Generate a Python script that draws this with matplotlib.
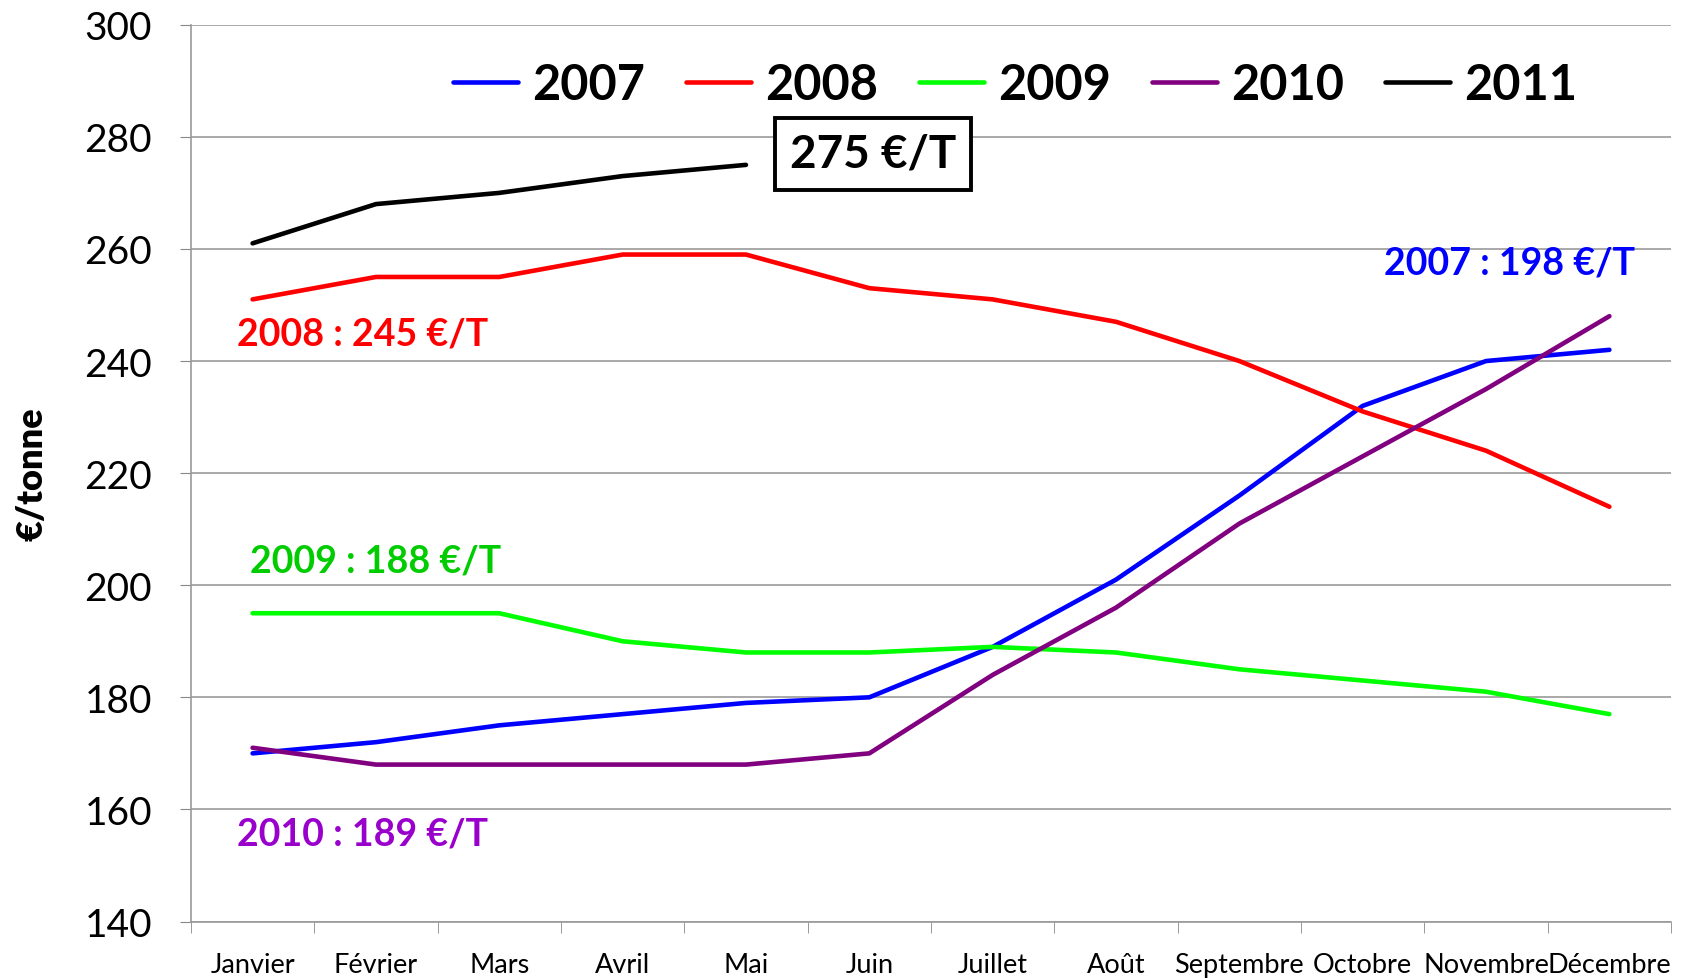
import numpy as np
import matplotlib
matplotlib.use("Agg")
import matplotlib.pyplot as plt
from matplotlib.ticker import FixedLocator

# === Data (€/tonne, monthly) ===
months = ["Janvier", "Février", "Mars", "Avril", "Mai", "Juin", "Juillet",
          "Août", "Septembre", "Octobre", "Novembre", "Décembre"]
prix_2007 = [170, 172, 175, 177, 179, 180, 189, 201, 216, 232, 240, 242]
prix_2008 = [251, 255, 255, 259, 259, 253, 251, 247, 240, 231, 224, 214]
prix_2009 = [195, 195, 195, 190, 188, 188, 189, 188, 185, 183, 181, 177]
prix_2010 = [171, 168, 168, 168, 168, 170, 184, 196, 211, 223, 235, 248]
prix_2011 = [261, 268, 270, 273, 275]

series = [("2007", prix_2007, "#0000FF"),
          ("2008", prix_2008, "#FF0000"),
          ("2009", prix_2009, "#00FF00"),
          ("2010", prix_2010, "#800080"),
          ("2011", prix_2011, "#000000")]

plt.rcParams["font.family"] = ["Lato", "DejaVu Sans"]

fig = plt.figure(figsize=(16.82, 9.79), dpi=100)
ax = fig.add_axes([0.1135, 0.0577, 0.88, 0.916])

x = np.arange(len(months))
for name, vals, col in series:
    ax.plot(x[:len(vals)], vals, color=col, lw=3.3, label=name,
            solid_capstyle="round", solid_joinstyle="round")

# axes
ax.set_xlim(-0.5, len(months) - 0.5)
ax.set_ylim(140, 300)
ax.set_yticks(np.arange(140, 301, 20))
ax.tick_params(axis="y", labelsize=28, length=8, color="#888888", pad=20)
ax.set_xticks(x)
ax.set_xticklabels(months, fontsize=19.5)
ax.tick_params(axis="x", which="major", length=0, pad=22)
ax.xaxis.set_minor_locator(FixedLocator(np.arange(-0.5, len(months), 1.0)))
ax.tick_params(axis="x", which="minor", length=8, color="#888888")
ax.grid(axis="y", color="#999999", lw=1.2)
ax.set_axisbelow(True)
for s in ["top", "right"]:
    ax.spines[s].set_visible(False)
for s in ["left", "bottom"]:
    ax.spines[s].set_color("#999999")
    ax.spines[s].set_linewidth(1.2)

ax.set_ylabel("€/tonne", fontsize=26, fontweight="heavy", labelpad=26)

# legend
leg = ax.legend(loc="center", bbox_to_anchor=(0.557, 0.933), ncol=5,
                frameon=False, prop={"size": 35, "weight": "bold"},
                handlelength=1.32, handletextpad=0.3, columnspacing=0.85)

# annotations
ann = dict(fontsize=27, fontweight="bold", va="center")
ax.text(-0.13, 245, "2008 : 245 €/T", color="#FF0000", ha="left", **ann)
ax.text(-0.02, 204.5, "2009 : 188 €/T", color="#00CC00", ha="left", **ann)
ax.text(-0.13, 155.7, "2010 : 189 €/T", color="#9900CC", ha="left", **ann)
ax.text(11.21, 257.5, "2007 : 198 €/T", color="#0000FF", ha="right", **ann)
ax.text(5.03, 277.0, "275 €/T", color="black", ha="center", va="center",
        fontsize=33, fontweight="bold",
        bbox=dict(boxstyle="square,pad=0.33", fc="white", ec="black", lw=2.8))

fig.savefig("out.png", dpi=100)
